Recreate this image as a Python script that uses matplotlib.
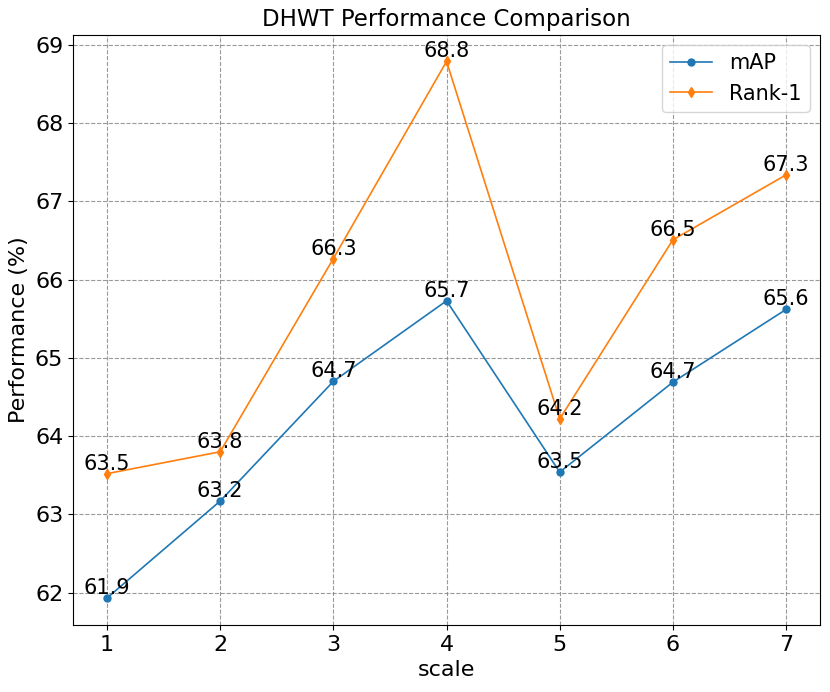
import matplotlib
matplotlib.use("Agg")
import matplotlib.pyplot as plt

# Data
scales = [1, 2, 3, 4, 5, 6, 7]
mAP = [61.93, 63.17, 64.70, 65.73, 63.54, 64.69, 65.62]
rank1 = [63.52, 63.80, 66.27, 68.79, 64.22, 66.51, 67.34]

fig, ax = plt.subplots(figsize=(8.3, 6.92), dpi=100)
ax.plot(scales, mAP, marker='o', markersize=5, linewidth=1.2, label='mAP')
ax.plot(scales, rank1, marker='d', markersize=5, linewidth=1.2, label='Rank-1')

for x, y in zip(scales, mAP):
    ax.text(x, y, f"{y:.1f}", ha='center', va='bottom', fontsize=15)
for x, y in zip(scales, rank1):
    ax.text(x, y, f"{y:.1f}", ha='center', va='bottom', fontsize=15)

ax.set_title('DHWT Performance Comparison', fontsize=16.5)
ax.set_xlabel('scale', fontsize=16)
ax.set_ylabel('Performance (%)', fontsize=16)
ax.tick_params(labelsize=16)
ax.grid(True, linestyle='--', color='gray', alpha=0.8)
ax.legend(fontsize=15)

fig.subplots_adjust(left=0.088, right=0.988, top=0.95, bottom=0.097)
fig.savefig("out.png")
